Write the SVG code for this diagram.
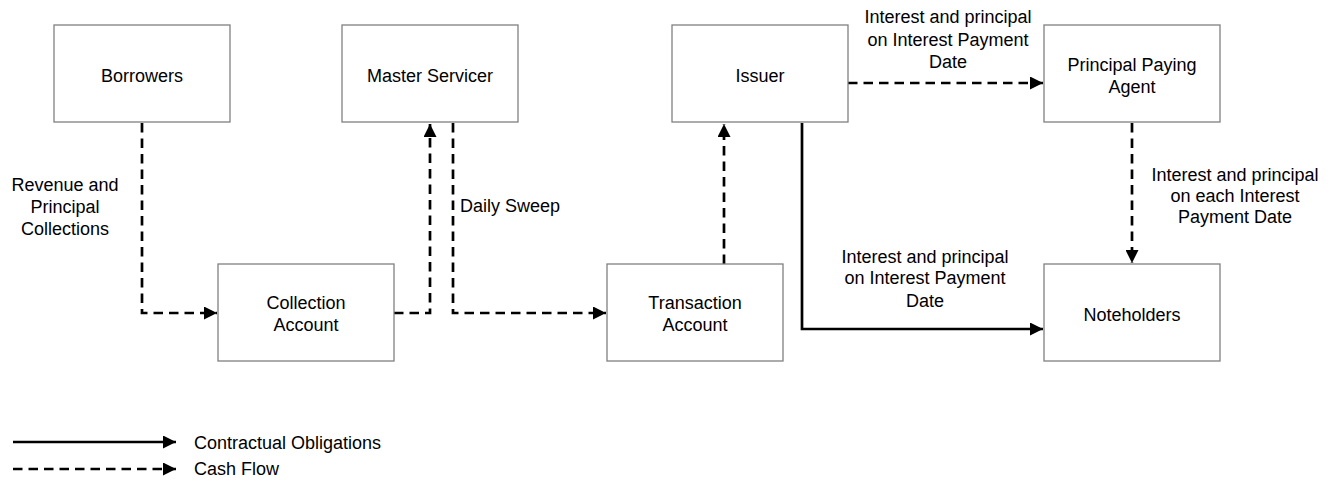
<svg xmlns="http://www.w3.org/2000/svg" width="1343" height="484" viewBox="0 0 1343 484">
<style>
.box{fill:#fff;stroke:#808080;stroke-width:1.3}
.t{font-family:"Liberation Sans",Arial,sans-serif;font-size:18px;fill:#000}
.c{text-anchor:middle}
.ln{fill:none;stroke:#000;stroke-width:2.7}
.d{stroke-dasharray:9.5 6}
</style>
<defs>
<marker id="ah" markerUnits="userSpaceOnUse" markerWidth="14" markerHeight="13" viewBox="0 0 14 13" refX="13" refY="6.5" orient="auto">
<path d="M0,0 L13,6.5 L0,13 Z" fill="#000"/>
</marker>
</defs>
<g id="connectors">
<path class="ln d" d="M142,123 V313 H217" marker-end="url(#ah)"/>
<path class="ln d" d="M394,313 H430 V124" marker-end="url(#ah)"/>
<path class="ln d" d="M453,123 V313 H606" marker-end="url(#ah)"/>
<path class="ln d" d="M724,264 V124" marker-end="url(#ah)"/>
<path class="ln d" d="M848,83 H1043" marker-end="url(#ah)"/>
<path class="ln d" d="M1132,123 V263" marker-end="url(#ah)"/>
<path class="ln" d="M802,123 V329 H1043" marker-end="url(#ah)"/>
</g>
<g id="borrowers"><rect class="box" x="54" y="25" width="176" height="97"/><text class="t c" x="142" y="81.5">Borrowers</text></g>
<g id="master-servicer"><rect class="box" x="342" y="25" width="176" height="97"/><text class="t c" x="430" y="81.5">Master Servicer</text></g>
<g id="issuer"><rect class="box" x="672" y="25" width="176" height="97"/><text class="t c" x="760" y="81.5">Issuer</text></g>
<g id="principal-paying-agent"><rect class="box" x="1044" y="25" width="176" height="97"/><text class="t c" x="1132" y="71">Principal Paying</text><text class="t c" x="1132" y="92.5">Agent</text></g>
<g id="collection-account"><rect class="box" x="218" y="264" width="176" height="97"/><text class="t c" x="306" y="309">Collection</text><text class="t c" x="306" y="331">Account</text></g>
<g id="transaction-account"><rect class="box" x="607" y="264" width="176" height="97"/><text class="t c" x="695" y="309">Transaction</text><text class="t c" x="695" y="331">Account</text></g>
<g id="noteholders"><rect class="box" x="1044" y="264" width="176" height="97"/><text class="t c" x="1132" y="320.5">Noteholders</text></g>
<g id="labels">
<text class="t c" x="65" y="190.5">Revenue and</text>
<text class="t c" x="65" y="212.5">Principal</text>
<text class="t c" x="65" y="234.5">Collections</text>
<text class="t" x="460" y="212">Daily Sweep</text>
<text class="t c" x="948" y="23">Interest and principal</text>
<text class="t c" x="948" y="45.5">on Interest Payment</text>
<text class="t c" x="948" y="68">Date</text>
<text class="t c" x="1235" y="180.5">Interest and principal</text>
<text class="t c" x="1235" y="201.5">on each Interest</text>
<text class="t c" x="1235" y="223">Payment Date</text>
<text class="t c" x="925" y="262.5">Interest and principal</text>
<text class="t c" x="925" y="284">on Interest Payment</text>
<text class="t c" x="925" y="306.5">Date</text>
</g>
<g id="legend">
<path class="ln" d="M13,442 H176" marker-end="url(#ah)"/>
<path class="ln d" d="M13,469 H176" marker-end="url(#ah)"/>
<text class="t" x="194" y="448.5">Contractual Obligations</text>
<text class="t" x="194" y="475">Cash Flow</text>
</g>
</svg>
